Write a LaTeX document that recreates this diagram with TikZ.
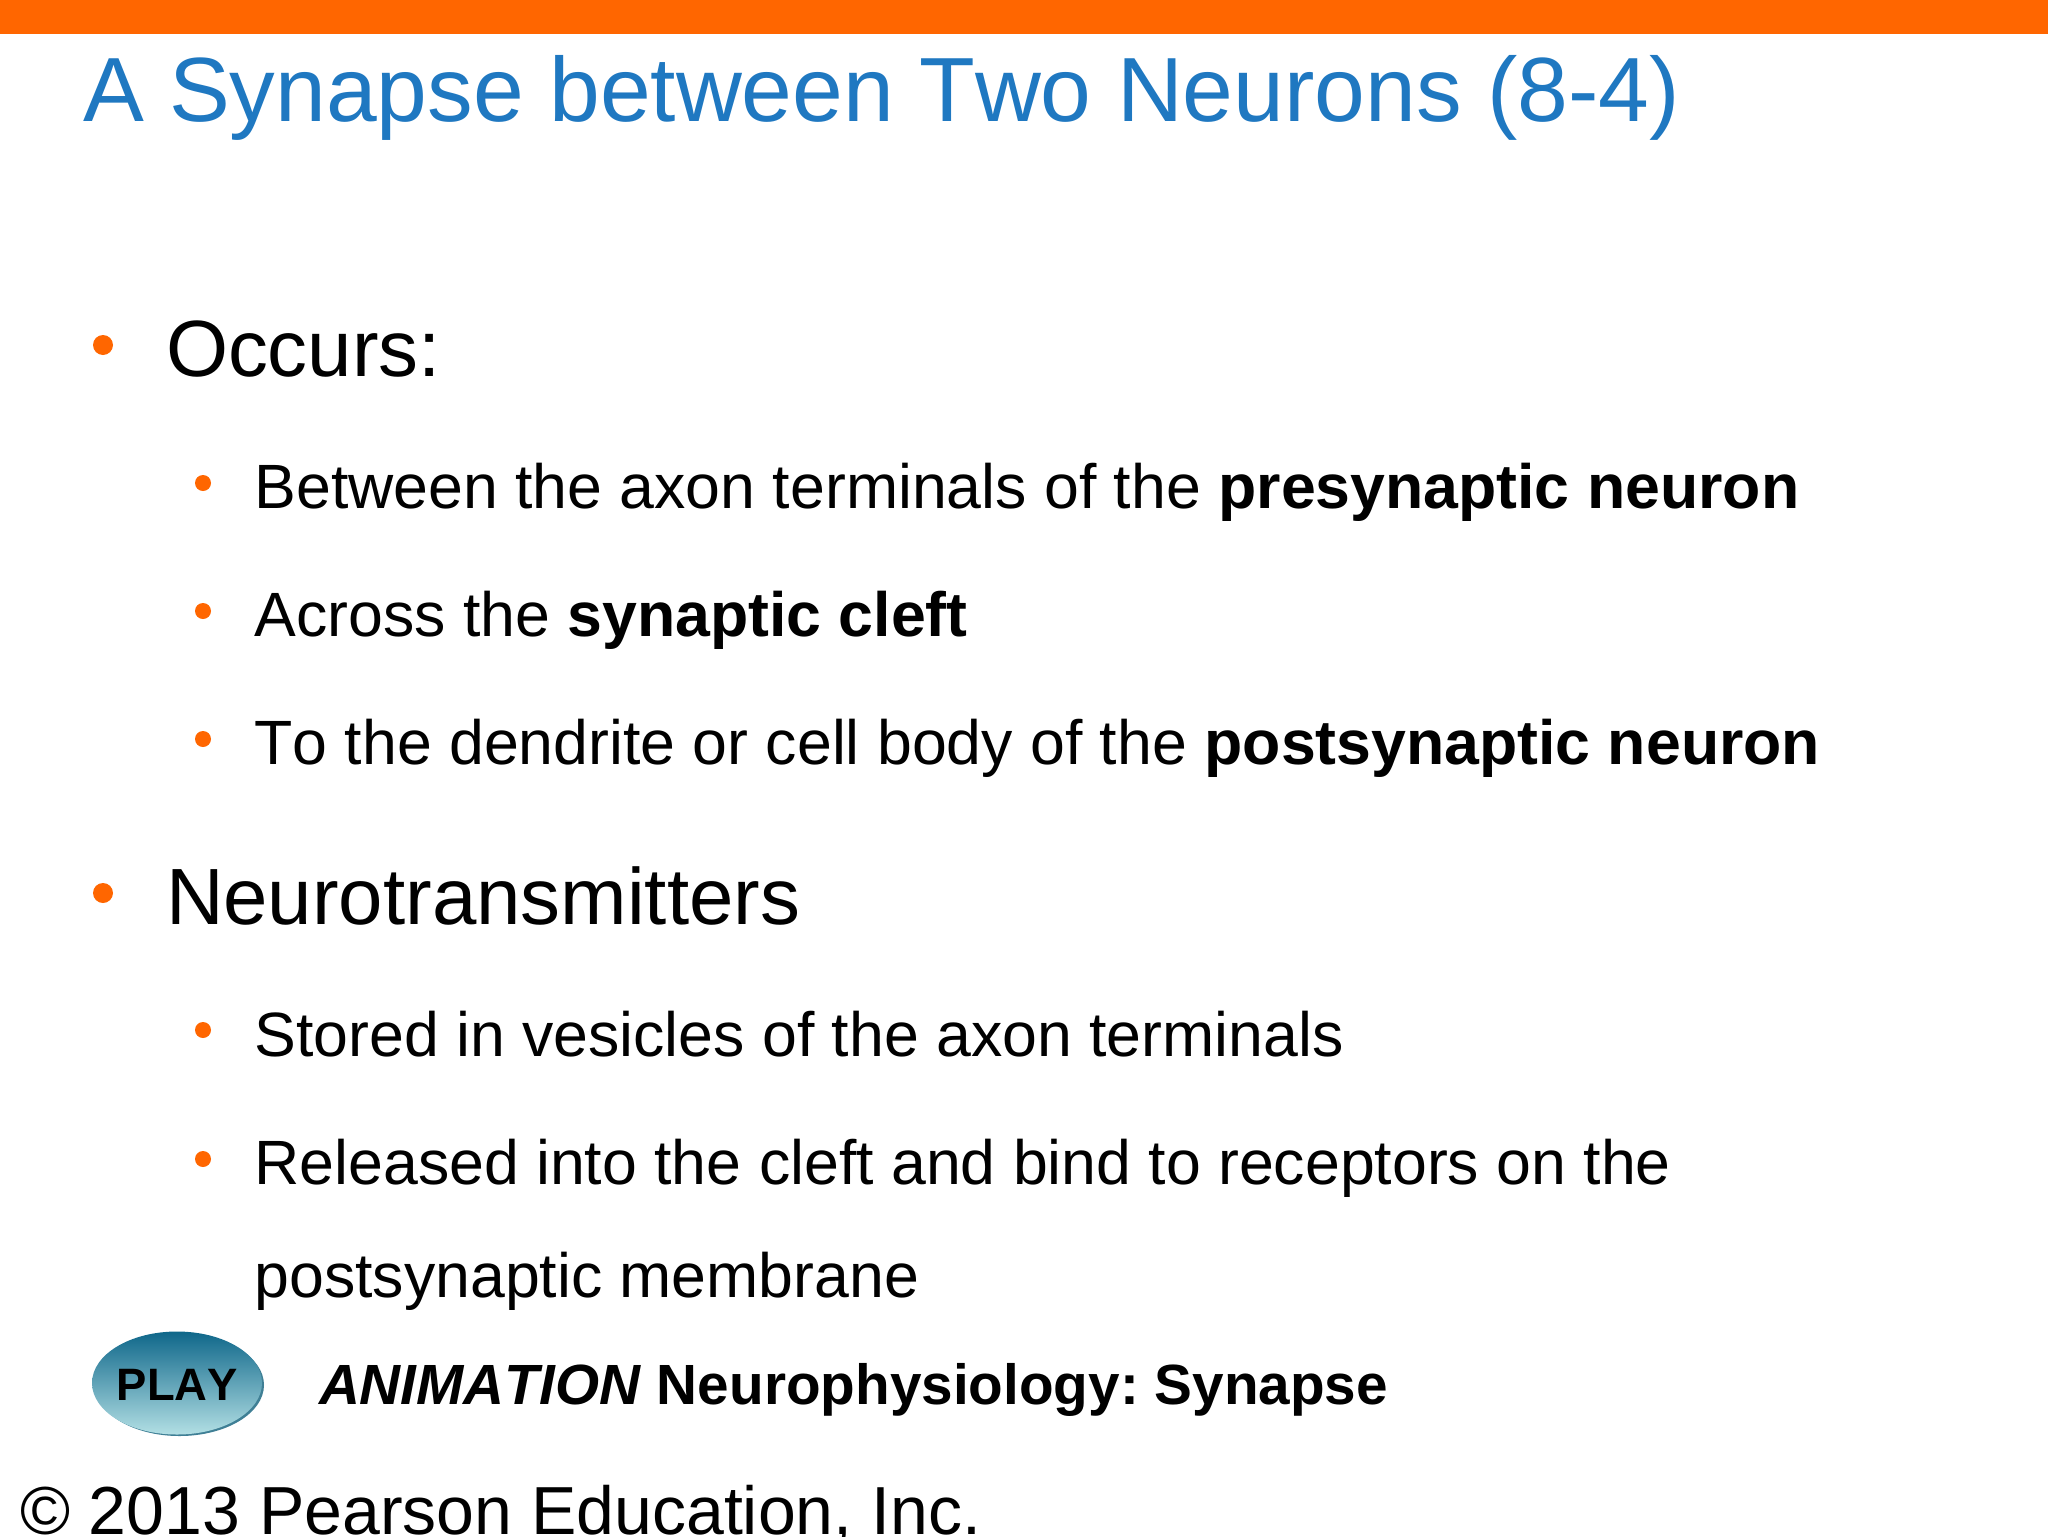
\documentclass[tikz,border=0pt]{standalone}
\usepackage{fontspec}
\setmainfont[Kerning=Off]{Liberation Sans}
\definecolor{barorange}{HTML}{FF6600}
\definecolor{titleblue}{HTML}{1F78C1}
\definecolor{btop}{HTML}{0F678A}
\definecolor{bbot}{HTML}{B2DFE4}
\definecolor{bedge}{HTML}{3F7F95}
\newcommand{\fsz}[1]{\fontsize{#1pt}{#1pt}\selectfont}
\frenchspacing
\tikzset{
 txt/.style={anchor=base west,inner sep=0pt,outer sep=0pt,text=black},
 titletxt/.style={txt,text=titleblue,font=\fsz{45.6}},
 lone/.style={txt,font=\fsz{39.9}},
 ltwo/.style={txt,font=\fsz{31.3}},
 bigdot/.style={circle,fill=barorange,draw=none,minimum size=10pt,inner sep=0pt},
 smalldot/.style={circle,fill=barorange,draw=none,minimum size=8pt,inner sep=0pt},
}
\begin{document}
\begin{tikzpicture}[x=0.5pt,y=-0.5pt]
\useasboundingbox (0,0) rectangle (2048,1536);
\clip (0,0) rectangle (2048,1536);
\fill[white] (0,0) rectangle (2048,1536);
\fill[barorange] (0,0) rectangle (2048,34);
\node[titletxt] (title) at (83,121) {A Synapse between Two Neurons (8-4)};
\node[bigdot] (b1) at (103,345) {};
\node[lone] (occ) at (166,376) {Occurs:};
\node[smalldot] (s1) at (203,483) {};
\node[ltwo] (t1) at (254.5,508) {Between the axon terminals of the \textbf{presynaptic neuron}};
\node[smalldot] (s2) at (203,611) {};
\node[ltwo] (t2) at (254.5,636) {Across the \textbf{synaptic cleft}};
\node[smalldot] (s3) at (203,739) {};
\node[ltwo] (t3) at (254.5,764) {To the dendrite or cell body of the \textbf{postsynaptic neuron}};
\node[bigdot] (b2) at (103,893) {};
\node[lone] (neu) at (166,924) {Neurotransmitters};
\node[smalldot] (s4) at (203,1030) {};
\node[ltwo] (t4) at (254.5,1056) {Stored in vesicles of the axon terminals};
\node[smalldot] (s5) at (203,1159) {};
\node[ltwo] (t5) at (254.5,1184) {Released into the cleft and bind to receptors on the};
\node[ltwo] (t6) at (254.5,1297) {postsynaptic membrane};
\fill[bedge] (179.5,1385) ellipse [x radius=84.5,y radius=51];
\shade[top color=btop,bottom color=bbot] (177,1383) ellipse [x radius=85,y radius=51.5];
\node[anchor=base,inner sep=0pt,font=\fsz{22.7}\bfseries,text=black] (play) at (177.5,1400) {PLAY};
\node[txt,font=\fsz{28.35}\bfseries] (anim) at (319,1404) {\textit{ANIMATION} Neurophysiology: Synapse};
\node[txt,font=\fsz{34}] (copy) at (20,1534) {© 2013 Pearson Education, Inc.};
\end{tikzpicture}
\end{document}
